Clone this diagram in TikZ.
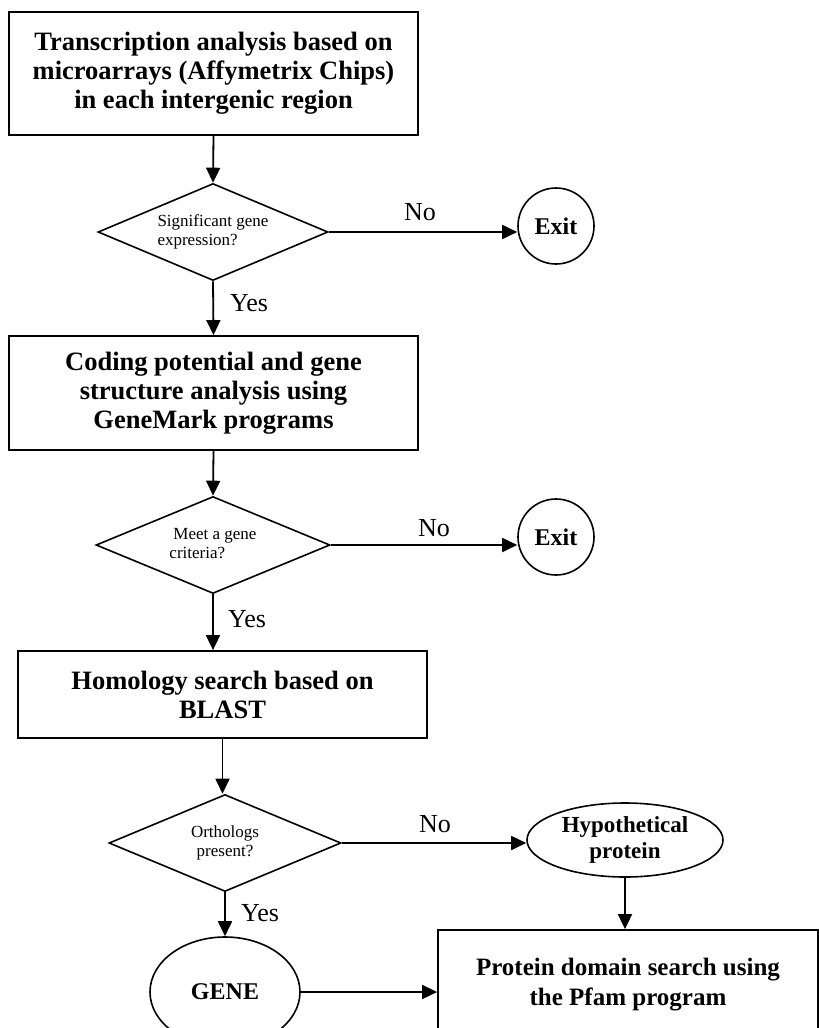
\documentclass[tikz,border=0pt]{standalone}
\usepackage{fontspec}
\setmainfont{Liberation Serif}
\usetikzlibrary{shapes.geometric,arrows.meta}
\begin{document}
\begin{tikzpicture}[x=1pt,y=1pt,
  stepbox/.style={draw,line width=1.8pt,rectangle,inner sep=0pt,align=center,
    font=\bfseries\fontsize{26.5}{29}\selectfont},
  decision/.style={draw,line width=1.6pt,diamond,shape aspect=2.4,inner sep=0pt,
    font=\fontsize{17}{19}\selectfont},
  endpoint/.style={draw,line width=1.6pt,ellipse,inner sep=0pt,align=center,
    font=\bfseries\fontsize{24}{27}\selectfont},
  lbl/.style={font=\fontsize{26}{28}\selectfont,inner sep=0pt},
  flow/.style={line width=1.8pt,-{Triangle[length=15pt,width=14pt]}}]
\useasboundingbox (0,0) rectangle (819,-1028);
\clip (0,0) rectangle (819,-1028);

% main column of steps
\node[stepbox,minimum width=409,minimum height=123] (b1) at (213.5,-73.5)
  {Transcription analysis based on\\microarrays (Affymetrix Chips)\\in each intergenic region};
\node[decision,minimum width=230,minimum height=97] (d1) at (213,-232)
  {\begin{tabular}{@{}l@{}}Significant gene\\expression?\end{tabular}};
\node[endpoint,minimum width=76,minimum height=76] (x1) at (556,-226) {Exit};

\node[stepbox,minimum width=409,minimum height=114] (b2) at (213.5,-393)
  {Coding potential and gene\\structure analysis using\\GeneMark programs};
\node[decision,minimum width=234,minimum height=97] (d2) at (213,-545)
  {\begin{tabular}{@{}l@{}}\hspace{4pt}Meet a gene\\criteria?\end{tabular}};
\node[endpoint,minimum width=76,minimum height=76] (x2) at (556,-537) {Exit};

\node[stepbox,minimum width=409,minimum height=87] (b3) at (222.5,-694.5)
  {Homology search based on\\BLAST};
\node[decision,minimum width=232,minimum height=97] (d3) at (225,-843)
  {\begin{tabular}{@{}c@{}}Orthologs\\present?\end{tabular}};
\node[endpoint,minimum width=196,minimum height=74,font=\bfseries\fontsize{23}{26}\selectfont]
  (hp) at (625,-840) {Hypothetical\\protein};

\node[endpoint,minimum width=150,minimum height=110] (gn) at (225,-992) {GENE};
\node[stepbox,minimum width=380,minimum height=110,font=\bfseries\fontsize{25}{30}\selectfont]
  (b4) at (628,-985) {Protein domain search using\\the Pfam program};

% connectors
\draw[flow] (b1.south) -- (d1.north);
\draw[flow] (d1.east) -- (d1.east -| x1.west);
\draw[flow] (d1.south) -- (b2.north);
\draw[flow] (b2.south) -- (d2.north);
\draw[flow] (d2.east) -- (d2.east -| x2.west);
\draw[flow] (d2.south) -- (d2.south |- b3.north);
\draw[flow] (b3.south) -- (b3.south |- d3.north);
\draw[flow] (d3.east) -- (d3.east -| hp.west);
\draw[flow] (d3.south) -- (gn.north);
\draw[flow] (hp.south) -- (hp.south |- b4.north);
\draw[flow] (gn.east) -- (gn.east -| b4.west);

% branch labels
\node[lbl] (n1) at (420,-212) {No};
\node[lbl] (y1) at (249,-303) {Yes};
\node[lbl] (n2) at (434,-528) {No};
\node[lbl] (y2) at (247,-619) {Yes};
\node[lbl] (n3) at (435,-824) {No};
\node[lbl] (y3) at (260,-913) {Yes};
\end{tikzpicture}
\end{document}
